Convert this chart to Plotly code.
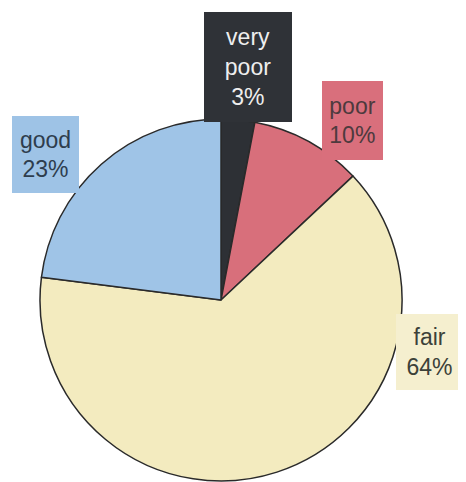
import plotly.graph_objects as go

categories = ["very poor", "poor", "fair", "good"]
values = [3, 10, 64, 23]
label_lines = ["very<br>poor<br>3%", "poor<br>10%", "fair<br>64%", "good<br>23%"]
slice_colors = ["#2d3035", "#d86f7b", "#f3ebbf", "#9fc4e7"]
box_colors = ["#2f3237", "#d96f7c", "#f5efcf", "#9ec3e6"]
text_colors = ["#eeeeee", "#4d3a3e", "#3c4139", "#2e3d4d"]

# page body has an 8px margin; the figure fills the rest of the 466x482 window
OFF = 8
W, H = 466 - OFF, 482 - OFF


def px(x):
    return (x - OFF) / W


def py(y):
    return 1 - (y - OFF) / H


fig = go.Figure(go.Pie(
    labels=categories,
    values=values,
    sort=False,
    direction="clockwise",
    rotation=0,
    textinfo="none",
    hoverinfo="label+percent",
    marker=dict(colors=slice_colors, line=dict(color="#2a2a2a", width=1.5)),
    domain=dict(x=[px(40), px(402)], y=[max(0, py(481)), py(119)]),
    showlegend=False,
))

# label boxes in window pixels: (center x, center y, width, height)
boxes = [
    (248, 67, 88, 110),
    (352.5, 120.5, 61, 79),
    (429.5, 352, 67, 76),
    (45.5, 154.5, 67, 77),
]

for txt, bg, fc, (cx, cy, bw, bh) in zip(label_lines, box_colors, text_colors, boxes):
    fig.add_annotation(
        x=px(cx), y=py(cy), xref="paper", yref="paper",
        xanchor="center", yanchor="middle",
        text=txt, showarrow=False, align="center",
        width=bw, height=bh, bgcolor=bg, borderpad=0, borderwidth=0,
        font=dict(family="Liberation Sans, Arial, sans-serif", size=23, color=fc),
    )

fig.update_layout(
    width=W, height=H,
    margin=dict(l=0, r=0, t=0, b=0),
    paper_bgcolor="white", plot_bgcolor="white",
)

fig.write_html("out.html")
